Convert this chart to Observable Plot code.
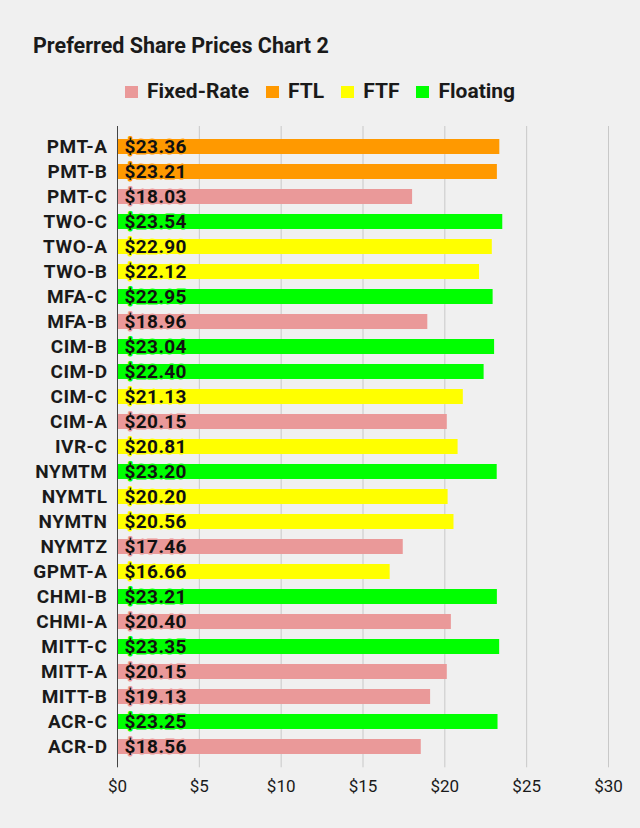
<!DOCTYPE html>
<html>
<head>
<meta charset="utf-8">
<script src="https://cdn.jsdelivr.net/npm/d3@7"></script>
<script src="https://cdn.jsdelivr.net/npm/@observablehq/plot@0.6"></script>
<style>
  html, body { margin: 0; padding: 0; background: #f0f0f0; }
  body { width: 640px; height: 828px; overflow: hidden; font-family: Roboto, "Noto Sans", sans-serif; }
  #header { position: relative; height: 110px; }
  #title { position: absolute; left: 33px; top: 34.6px; font-size: 21.5px; font-weight: 700; line-height: 1; color: #1a1a1a; white-space: nowrap; }
  #legend { position: absolute; left: 0; width: 640px; top: 81px; display: flex; justify-content: center; font-size: 21px; font-weight: 700; line-height: 1; color: #1a1a1a; }
  .item { display: flex; align-items: center; margin: 0 8.5px; }
  .sw { width: 13px; height: 12px; margin-right: 9px; }
  #chart svg { display: block; }
  .barlabel text { letter-spacing: 0.4px; }
  .ylab text { letter-spacing: 0.5px; }
</style>
</head>
<body>
<div id="header">
  <div id="title">Preferred Share Prices Chart 2</div>
  <div id="legend"></div>
</div>
<div id="chart"></div>
<script>
const tickers = ["PMT-A","PMT-B","PMT-C","TWO-C","TWO-A","TWO-B","MFA-C","MFA-B","CIM-B","CIM-D","CIM-C","CIM-A","IVR-C","NYMTM","NYMTL","NYMTN","NYMTZ","GPMT-A","CHMI-B","CHMI-A","MITT-C","MITT-A","MITT-B","ACR-C","ACR-D"];
const prices = [23.36,23.21,18.03,23.54,22.90,22.12,22.95,18.96,23.04,22.40,21.13,20.15,20.81,23.20,20.20,20.56,17.46,16.66,23.21,20.40,23.35,20.15,19.13,23.25,18.56];
const types = ["FTL","FTL","Fixed-Rate","Floating","FTF","FTF","Floating","Fixed-Rate","Floating","Floating","FTF","Fixed-Rate","FTF","Floating","FTF","FTF","Fixed-Rate","FTF","Floating","Fixed-Rate","Floating","Fixed-Rate","Fixed-Rate","Floating","Fixed-Rate"];
const typeNames = ["Fixed-Rate","FTL","FTF","Floating"];
const typeColors = ["#ea9999","#ff9900","#ffff00","#00ff00"];
const xTicks = [0,5,10,15,20,25,30];

const data = tickers.map((t, i) => ({ticker: t, price: prices[i], type: types[i]}));

const legend = document.getElementById("legend");
typeNames.forEach((n, i) => {
  const it = document.createElement("div");
  it.className = "item";
  const sw = document.createElement("div");
  sw.className = "sw";
  sw.style.background = typeColors[i];
  const lb = document.createElement("span");
  lb.textContent = n;
  it.appendChild(sw); it.appendChild(lb);
  legend.appendChild(it);
});

const chart = Plot.plot({
  width: 640,
  height: 718,
  marginTop: 16,
  marginBottom: 60.7,
  marginLeft: 117,
  marginRight: 32,
  style: {background: "transparent", fontFamily: "Roboto, sans-serif", color: "#1a1a1a"},
  x: {domain: [0, 30], label: null},
  y: {domain: tickers, label: null, paddingInner: 0.388, paddingOuter: 0.359},
  color: {domain: typeNames, range: typeColors},
  marks: [
    Plot.gridX(xTicks.slice(1), {stroke: "#c8c8c8", strokeOpacity: 1, strokeWidth: 1}),
    Plot.barX(data, {x: "price", y: "ticker", fill: "type"}),
    Plot.ruleX([0], {stroke: "#444", strokeWidth: 1}),
    Plot.text(data, {x: 0, y: "ticker", text: d => "$" + d.price.toFixed(2), textAnchor: "start", dx: 7, fill: "#111", stroke: "type", strokeWidth: 3, fontWeight: 700, fontSize: 19, className: "barlabel"}),
    Plot.axisY({tickSize: 0, tickPadding: 10, fontWeight: 700, fontSize: 19, label: null, className: "ylab"}),
    Plot.axisX({ticks: xTicks, tickFormat: d => "$" + d, tickSize: 0, tickPadding: 12.3, fontSize: 17, label: null})
  ]
});
document.getElementById("chart").appendChild(chart);
</script>
</body>
</html>
